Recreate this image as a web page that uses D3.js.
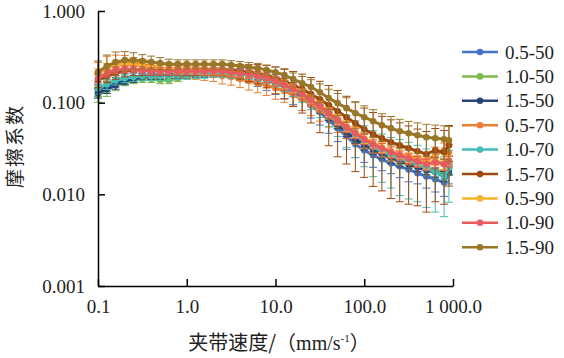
<!DOCTYPE html>
<html>
<head>
<meta charset="utf-8">
<script src="https://cdn.jsdelivr.net/npm/d3@7"></script>
<style>
	body { margin: 0; background: #fff; }
	svg { display: block; }
	.tick text { font-family: "Liberation Serif", "Times New Roman", serif; font-size: 19px; fill: #222; }
	.legend text { font-family: "Liberation Serif", "Times New Roman", serif; font-size: 19px; fill: #222; }
	.title { font-family: "Noto Sans CJK SC", sans-serif; font-size: 20px; fill: #222; }
</style>
</head>
<body>
<svg width="564" height="358"></svg>
<script>
// Belt speed (mm/s), shared by every series
const speeds = [0.1, 0.126, 0.158, 0.2, 0.251, 0.316, 0.398, 0.501, 0.631, 0.794,
	1.0, 1.26, 1.58, 2.0, 2.51, 3.16, 3.98, 5.01, 6.31, 7.94,
	10, 12.6, 15.8, 20, 25.1, 31.6, 39.8, 50.1, 63.1, 79.4,
	100, 126, 158, 200, 251, 316, 398, 501, 631, 794, 900];

const seriesNames = ["0.5-50", "1.0-50", "1.5-50", "0.5-70", "1.0-70", "1.5-70", "0.5-90", "1.0-90", "1.5-90"];
const seriesColors = ["#4472C4", "#7DBA4C", "#264478", "#ED7D31", "#45BDB4", "#9E480E", "#F5B22B", "#E85A5E", "#9A7628"];

// Friction coefficient of each series
const f_05_50 = [0.137, 0.152, 0.168, 0.181, 0.190, 0.195, 0.200, 0.200, 0.200, 0.205,
	0.205, 0.205, 0.210, 0.210, 0.210, 0.210, 0.205, 0.200, 0.190, 0.176,
	0.163, 0.148, 0.130, 0.112, 0.094, 0.079, 0.0644, 0.0526, 0.0430, 0.0352,
	0.0303, 0.0267, 0.0241, 0.0218, 0.0202, 0.0187, 0.0170, 0.0157, 0.0146, 0.0135, 0.0170];
const f_10_50 = [0.121, 0.137, 0.155, 0.168, 0.176, 0.181, 0.181, 0.176, 0.176, 0.185,
	0.195, 0.200, 0.205, 0.210, 0.210, 0.210, 0.210, 0.205, 0.195, 0.185,
	0.172, 0.155, 0.141, 0.121, 0.104, 0.087, 0.073, 0.0597, 0.0501, 0.0420,
	0.0361, 0.0318, 0.0288, 0.0260, 0.0241, 0.0224, 0.0207, 0.0192, 0.0183, 0.0174, 0.0192];
const f_15_50 = [0.127, 0.141, 0.155, 0.172, 0.181, 0.190, 0.195, 0.195, 0.200, 0.200,
	0.200, 0.205, 0.205, 0.210, 0.210, 0.210, 0.205, 0.200, 0.195, 0.181,
	0.168, 0.152, 0.137, 0.118, 0.101, 0.085, 0.071, 0.058, 0.0476, 0.0399,
	0.0343, 0.0303, 0.0274, 0.0247, 0.0229, 0.0213, 0.0197, 0.0183, 0.0174, 0.0157, 0.0183];
const f_05_70 = [0.215, 0.251, 0.270, 0.277, 0.270, 0.263, 0.251, 0.238, 0.227, 0.221,
	0.215, 0.210, 0.205, 0.200, 0.195, 0.190, 0.181, 0.172, 0.163, 0.155,
	0.144, 0.134, 0.121, 0.109, 0.0963, 0.0828, 0.0712, 0.0612, 0.0526, 0.0452,
	0.0399, 0.0352, 0.0318, 0.0295, 0.0274, 0.0260, 0.0247, 0.0235, 0.0267, 0.0303, 0.0288];
const f_10_70 = [0.144, 0.159, 0.176, 0.185, 0.190, 0.195, 0.195, 0.195, 0.195, 0.200,
	0.200, 0.205, 0.205, 0.210, 0.210, 0.205, 0.205, 0.200, 0.190, 0.181,
	0.168, 0.152, 0.137, 0.121, 0.104, 0.089, 0.0749, 0.0628, 0.0526, 0.0441,
	0.0380, 0.0326, 0.0295, 0.0267, 0.0247, 0.0229, 0.0213, 0.0192, 0.0174, 0.0157, 0.0192];
const f_15_70 = [0.176, 0.195, 0.210, 0.221, 0.227, 0.227, 0.227, 0.227, 0.227, 0.227,
	0.227, 0.227, 0.227, 0.227, 0.227, 0.227, 0.221, 0.215, 0.210, 0.200,
	0.185, 0.172, 0.155, 0.141, 0.124, 0.109, 0.0939, 0.0807, 0.0694, 0.0597,
	0.0513, 0.0452, 0.0409, 0.0370, 0.0343, 0.0318, 0.0295, 0.0274, 0.0303, 0.0288, 0.0343];
const f_05_90 = [0.205, 0.238, 0.257, 0.263, 0.257, 0.251, 0.244, 0.238, 0.232, 0.227,
	0.227, 0.227, 0.221, 0.221, 0.221, 0.215, 0.210, 0.205, 0.195, 0.185,
	0.172, 0.159, 0.144, 0.127, 0.109, 0.0939, 0.0787, 0.0660, 0.0553, 0.0476,
	0.0409, 0.0361, 0.0326, 0.0295, 0.0274, 0.0254, 0.0235, 0.0218, 0.0235, 0.0218, 0.0235];
const f_10_90 = [0.185, 0.210, 0.227, 0.232, 0.232, 0.227, 0.221, 0.221, 0.221, 0.221,
	0.221, 0.221, 0.221, 0.221, 0.221, 0.215, 0.210, 0.205, 0.195, 0.185,
	0.172, 0.155, 0.141, 0.124, 0.107, 0.0916, 0.0768, 0.0644, 0.0540, 0.0464,
	0.0399, 0.0352, 0.0318, 0.0288, 0.0267, 0.0247, 0.0229, 0.0213, 0.0224, 0.0213, 0.0229];
const f_15_90 = [0.215, 0.251, 0.277, 0.291, 0.291, 0.284, 0.277, 0.270, 0.263, 0.263,
	0.263, 0.263, 0.263, 0.263, 0.263, 0.257, 0.251, 0.244, 0.238, 0.227,
	0.215, 0.200, 0.181, 0.163, 0.148, 0.130, 0.112, 0.0988, 0.0871, 0.0768,
	0.0694, 0.0628, 0.0568, 0.0526, 0.0488, 0.0464, 0.0441, 0.0420, 0.0409, 0.0399, 0.0389];

// Error bar half-lengths (same unit as the friction coefficient)
const e_05_50 = [0.02, 0.02, 0.02, 0.02, 0.02, 0.02, 0.02, 0.02, 0.02, 0.02,
	0.02, 0.02, 0.02, 0.02, 0.02, 0.025, 0.03, 0.035, 0.04, 0.04,
	0.04, 0.038, 0.035, 0.03, 0.026, 0.022, 0.018, 0.015, 0.012, 0.01,
	0.008, 0.007, 0.006, 0.005, 0.005, 0.005, 0.004, 0.004, 0.004, 0.004, 0.004];
const e_10_50 = [0.02, 0.02, 0.02, 0.015, 0.015, 0.015, 0.015, 0.015, 0.015, 0.015,
	0.015, 0.015, 0.015, 0.015, 0.015, 0.015, 0.015, 0.015, 0.015, 0.015,
	0.015, 0.013, 0.012, 0.01, 0.009, 0.008, 0.007, 0.006, 0.005, 0.004,
	0.004, 0.003, 0.003, 0.003, 0.003, 0.003, 0.003, 0.003, 0.003, 0.003, 0.003];
const e_15_50 = [0.015, 0.015, 0.015, 0.015, 0.015, 0.015, 0.015, 0.015, 0.015, 0.015,
	0.015, 0.015, 0.015, 0.015, 0.015, 0.015, 0.015, 0.015, 0.015, 0.015,
	0.015, 0.013, 0.012, 0.011, 0.009, 0.008, 0.007, 0.006, 0.005, 0.004,
	0.004, 0.003, 0.003, 0.003, 0.003, 0.002, 0.002, 0.002, 0.002, 0.002, 0.002];
const e_05_70 = [0.06, 0.07, 0.06, 0.05, 0.04, 0.035, 0.03, 0.03, 0.03, 0.03,
	0.03, 0.03, 0.03, 0.03, 0.035, 0.035, 0.035, 0.035, 0.035, 0.035,
	0.035, 0.033, 0.03, 0.027, 0.024, 0.02, 0.017, 0.014, 0.012, 0.01,
	0.008, 0.007, 0.006, 0.006, 0.005, 0.005, 0.005, 0.005, 0.006, 0.006, 0.006];
const e_10_70 = [0.02, 0.02, 0.02, 0.02, 0.02, 0.02, 0.02, 0.02, 0.02, 0.02,
	0.02, 0.02, 0.02, 0.02, 0.02, 0.02, 0.02, 0.02, 0.02, 0.02,
	0.02, 0.02, 0.02, 0.02, 0.02, 0.02, 0.02, 0.02, 0.02, 0.019,
	0.018, 0.017, 0.016, 0.015, 0.015, 0.014, 0.013, 0.012, 0.011, 0.01, 0.011];
const e_15_70 = [0.03, 0.03, 0.03, 0.03, 0.03, 0.03, 0.03, 0.03, 0.03, 0.03,
	0.03, 0.03, 0.03, 0.03, 0.03, 0.035, 0.04, 0.045, 0.05, 0.055,
	0.06, 0.062, 0.064, 0.064, 0.064, 0.062, 0.06, 0.055, 0.048, 0.042,
	0.036, 0.033, 0.03, 0.028, 0.026, 0.024, 0.022, 0.021, 0.022, 0.021, 0.022];
const e_05_90 = [0.03, 0.03, 0.03, 0.025, 0.02, 0.02, 0.02, 0.02, 0.02, 0.02,
	0.02, 0.02, 0.02, 0.02, 0.02, 0.02, 0.02, 0.02, 0.02, 0.02,
	0.02, 0.018, 0.016, 0.014, 0.012, 0.01, 0.009, 0.008, 0.007, 0.006,
	0.005, 0.004, 0.004, 0.004, 0.003, 0.003, 0.003, 0.003, 0.003, 0.003, 0.003];
const e_10_90 = [0.02, 0.02, 0.02, 0.02, 0.02, 0.02, 0.02, 0.02, 0.02, 0.02,
	0.02, 0.02, 0.02, 0.02, 0.02, 0.02, 0.02, 0.02, 0.02, 0.02,
	0.02, 0.018, 0.016, 0.014, 0.012, 0.01, 0.009, 0.008, 0.007, 0.006,
	0.005, 0.004, 0.004, 0.004, 0.003, 0.003, 0.003, 0.003, 0.003, 0.003, 0.003];
const e_15_90 = [0.07, 0.08, 0.08, 0.07, 0.06, 0.05, 0.045, 0.04, 0.035, 0.03,
	0.03, 0.03, 0.03, 0.03, 0.03, 0.03, 0.03, 0.03, 0.03, 0.03,
	0.03, 0.03, 0.03, 0.03, 0.03, 0.03, 0.028, 0.027, 0.026, 0.025,
	0.023, 0.021, 0.019, 0.018, 0.017, 0.016, 0.016, 0.016, 0.016, 0.016, 0.016];

const seriesValues = [f_05_50, f_10_50, f_15_50, f_05_70, f_10_70, f_15_70, f_05_90, f_10_90, f_15_90];
const seriesErrors = [e_05_50, e_10_50, e_15_50, e_05_70, e_10_70, e_15_70, e_05_90, e_10_90, e_15_90];

const xTicks = [0.1, 1, 10, 100, 1000];
const xTickLabels = ["0.1", "1.0", "10.0", "100.0", "1 000.0"];
const yTicks = [0.001, 0.01, 0.1, 1];
const yTickLabels = ["0.001", "0.010", "0.100", "1.000"];

const svg = d3.select("svg");
const plot = { left: 98, right: 453, top: 11, bottom: 286 };

const xScale = d3.scaleLog().domain([0.1, 1000]).range([plot.left, plot.right]);
const yScale = d3.scaleLog().domain([0.001, 1]).range([plot.bottom, plot.top]);

// one table per series, built from the arrays above
const series = seriesNames.map((name, i) => ({
	name: name,
	color: seriesColors[i],
	points: speeds.map((s, j) => ({ x: s, y: seriesValues[i][j], e: seriesErrors[i][j] }))
}));

const line = d3.line().x(d => xScale(d.x)).y(d => yScale(d.y));
const capHalf = 4;

series.forEach(s => {
	const g = svg.append("g").attr("class", "series");

	// error bars first, so the curve sits on top of them
	const bars = g.append("g")
		.attr("stroke", s.color)
		.attr("stroke-width", 1)
		.selectAll("g")
		.data(s.points)
		.join("g");

	const lo = d => yScale(Math.max(d.y - d.e, 0.0011));
	const hi = d => yScale(d.y + d.e);

	bars.append("line")
		.attr("x1", d => xScale(d.x)).attr("x2", d => xScale(d.x))
		.attr("y1", lo).attr("y2", hi);
	bars.append("line")
		.attr("x1", d => xScale(d.x) - capHalf).attr("x2", d => xScale(d.x) + capHalf)
		.attr("y1", hi).attr("y2", hi);
	bars.append("line")
		.attr("x1", d => xScale(d.x) - capHalf).attr("x2", d => xScale(d.x) + capHalf)
		.attr("y1", lo).attr("y2", lo);

	g.append("path")
		.datum(s.points)
		.attr("fill", "none")
		.attr("stroke", s.color)
		.attr("stroke-width", 3)
		.attr("d", line);

	g.selectAll("circle")
		.data(s.points)
		.join("circle")
		.attr("cx", d => xScale(d.x))
		.attr("cy", d => yScale(d.y))
		.attr("r", 3.3)
		.attr("fill", s.color);
});

// axes, ticks point into the plot
const xAxis = d3.axisBottom(xScale)
	.tickValues(xTicks)
	.tickFormat((d, i) => xTickLabels[i])
	.tickSizeInner(-7)
	.tickSizeOuter(0)
	.tickPadding(14);

const yAxis = d3.axisLeft(yScale)
	.tickValues(yTicks)
	.tickFormat((d, i) => yTickLabels[i])
	.tickSizeInner(-7)
	.tickSizeOuter(0)
	.tickPadding(13);

const xg = svg.append("g")
	.attr("transform", `translate(0, ${plot.bottom})`)
	.call(xAxis);
const yg = svg.append("g")
	.attr("transform", `translate(${plot.left}, 0)`)
	.call(yAxis);

[xg, yg].forEach(g => {
	g.select(".domain").attr("stroke", "#000").attr("stroke-width", 1.5);
	g.selectAll(".tick line").attr("stroke", "#000").attr("stroke-width", 1.5);
});

// axis titles
const xTitle = svg.append("text")
	.attr("class", "title")
	.attr("x", 279)
	.attr("y", 350)
	.attr("text-anchor", "middle");
xTitle.append("tspan").text("夹带速度/（");
xTitle.append("tspan").style("font-family", "'Liberation Serif', serif").style("font-size", "20px").text("mm/s");
xTitle.append("tspan").style("font-family", "'Liberation Serif', serif").style("font-size", "11px").attr("dy", -8).text("-1");
xTitle.append("tspan").attr("dy", 8).text("）");

svg.append("text")
	.attr("class", "title")
	.attr("transform", "translate(13, 146) rotate(-90)")
	.attr("text-anchor", "middle")
	.attr("dominant-baseline", "central")
	.style("font-size", "19px")
	.style("letter-spacing", "2px")
	.text("摩擦系数");

// legend
const legend = svg.append("g")
	.attr("class", "legend")
	.selectAll("g")
	.data(series)
	.join("g")
	.attr("transform", (d, i) => `translate(462, ${52 + i * 24.4})`);

legend.append("line")
	.attr("x1", 0).attr("x2", 36)
	.attr("stroke", d => d.color)
	.attr("stroke-width", 2.5);
legend.append("circle")
	.attr("cx", 18)
	.attr("r", 3.3)
	.attr("fill", d => d.color);
legend.append("text")
	.attr("x", 43)
	.attr("y", 6.5)
	.text(d => d.name);
</script>
</body>
</html>
